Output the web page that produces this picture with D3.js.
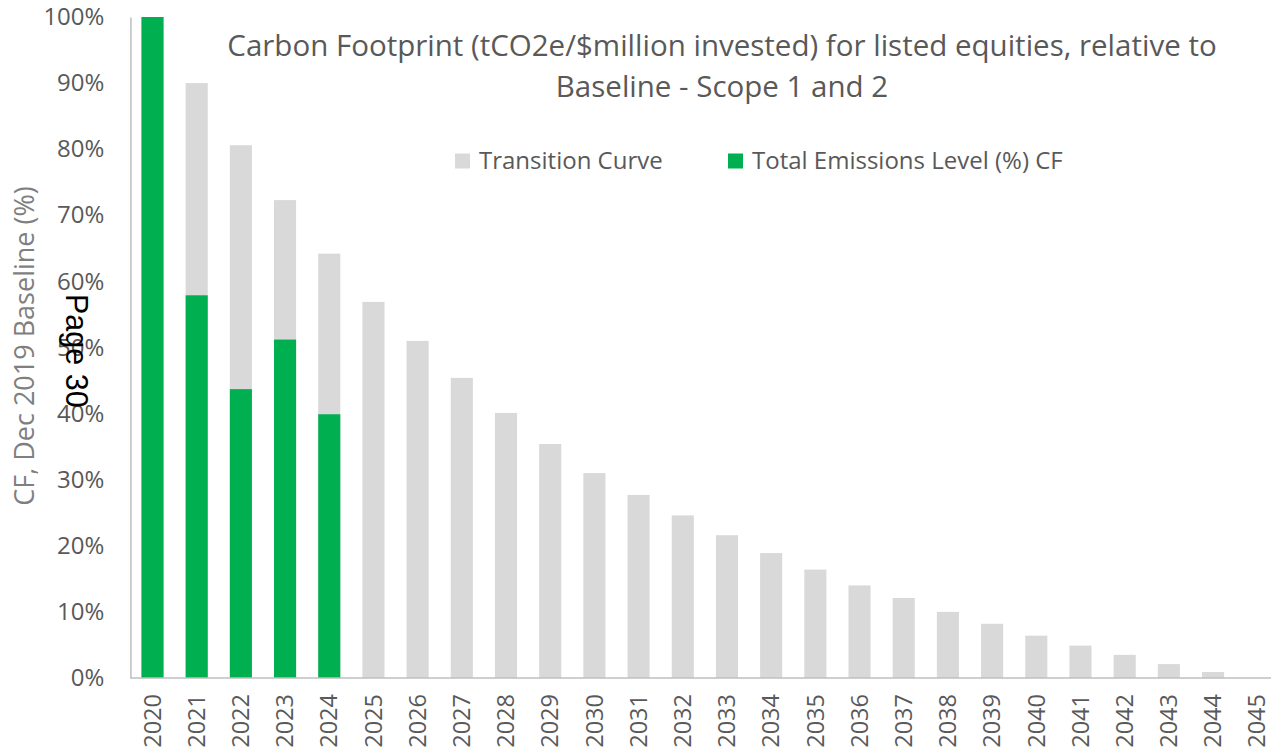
<!DOCTYPE html>
<html>
<head>
<meta charset="utf-8">
<script src="https://cdn.jsdelivr.net/npm/d3@7"></script>
<style>
  body { margin: 0; background: #fff; }
  svg { display: block; font-family: 'Open Sans', sans-serif; }
</style>
</head>
<body>
<svg id="canvas" width="1271" height="752"></svg>
<script>
'use strict';

var years = ['2020', '2021', '2022', '2023', '2024', '2025', '2026', '2027', '2028',
  '2029', '2030', '2031', '2032', '2033', '2034', '2035', '2036', '2037', '2038',
  '2039', '2040', '2041', '2042', '2043', '2044', '2045'];
var transitionCurve = [100, 90.0, 80.6, 72.3, 64.2, 56.9, 51.0, 45.4, 40.1, 35.4,
  31.0, 27.7, 24.6, 21.6, 18.9, 16.4, 14.0, 12.1, 10.0, 8.2, 6.4, 4.9, 3.5, 2.1, 0.9, 0];
var totalEmissions = [100, 57.9, 43.7, 51.2, 39.9];
var yTicks = [0, 10, 20, 30, 40, 50, 60, 70, 80, 90, 100];
var seriesNames = ['Transition Curve', 'Total Emissions Level (%) CF'];
var titleLines = ['Carbon Footprint (tCO2e/$million invested) for listed equities, relative to',
  'Baseline - Scope 1 and 2'];

var GREY = '#d9d9d9', GREEN = '#00b050', AXIS = '#bfbfbf', TEXT = '#595959';

function RenderChart() {
  var svg = d3.select('#canvas');
  var left = 130.4, top = 17, bottom = 678;

  var x = d3.scaleBand()
      .domain(years)
      .range([left, left + 44.19 * years.length])
      .paddingInner(0.5)
      .paddingOuter(0.25);
  var y = d3.scaleLinear().domain([0, 100]).range([bottom, top]);

  // grey transition curve bars
  svg.append('g').selectAll('rect')
      .data(years.map(function(yr, i) { return {year: yr, value: transitionCurve[i]}; }))
    .enter().append('rect')
      .attr('x', function(d) { return x(d.year); })
      .attr('y', function(d) { return y(d.value); })
      .attr('width', x.bandwidth())
      .attr('height', function(d) { return y(0) - y(d.value); })
      .attr('fill', GREY);

  // green actual bars overlap the grey ones
  svg.append('g').selectAll('rect')
      .data(totalEmissions.map(function(v, i) { return {year: years[i], value: v}; }))
    .enter().append('rect')
      .attr('x', function(d) { return x(d.year); })
      .attr('y', function(d) { return y(d.value); })
      .attr('width', x.bandwidth())
      .attr('height', function(d) { return y(0) - y(d.value); })
      .attr('fill', GREEN);

  // y axis
  var yAxis = svg.append('g')
      .attr('transform', 'translate(' + left + ',0)')
      .call(d3.axisLeft(y).tickValues(yTicks).tickSize(0).tickPadding(26)
        .tickFormat(function(d) { return d + '%'; }));
  yAxis.select('.domain').attr('stroke', AXIS).attr('stroke-width', 1.5);
  yAxis.selectAll('text')
      .attr('fill', TEXT)
      .attr('font-size', 24)
      .attr('font-family', "'Open Sans', sans-serif");

  // x axis
  var xAxis = svg.append('g')
      .attr('transform', 'translate(0,' + bottom + ')')
      .call(d3.axisBottom(x).tickSize(0).tickSizeOuter(0));
  xAxis.select('.domain').attr('stroke', AXIS).attr('stroke-width', 1.5)
      .attr('d', 'M' + left + ',0H1271');
  xAxis.selectAll('text')
      .attr('fill', TEXT)
      .attr('font-size', 23.5)
      .attr('font-family', "'Open Sans', sans-serif")
      .attr('transform', 'rotate(-90)')
      .attr('text-anchor', 'end')
      .attr('dy', '0.35em')
      .attr('x', -16)
      .attr('y', 0);

  // y label
  svg.append('text')
      .attr('transform', 'translate(34,346) rotate(-90)')
      .attr('text-anchor', 'middle')
      .attr('fill', '#7f7f7f')
      .attr('font-size', 27)
      .text('CF, Dec 2019 Baseline (%)');

  // title
  svg.append('g').selectAll('text')
      .data(titleLines)
    .enter().append('text')
      .attr('x', 722)
      .attr('y', function(d, i) { return 56 + i * 41; })
      .attr('text-anchor', 'middle')
      .attr('fill', TEXT)
      .attr('font-size', 29.5)
      .text(function(d) { return d; });

  // legend
  var legendX = [455, 728];
  var legend = svg.append('g').selectAll('g')
      .data(seriesNames)
    .enter().append('g')
      .attr('transform', function(d, i) { return 'translate(' + legendX[i] + ',161)'; });
  legend.append('rect')
      .attr('x', 0).attr('y', -7.5)
      .attr('width', 15).attr('height', 15)
      .attr('fill', function(d, i) { return i === 0 ? GREY : GREEN; });
  legend.append('text')
      .attr('x', 24)
      .attr('dy', '0.35em')
      .attr('fill', TEXT)
      .attr('font-size', 24)
      .text(function(d) { return d; });

  // page stamp
  svg.append('text')
      .attr('transform', 'translate(66,294) rotate(90)')
      .attr('fill', '#000')
      .attr('font-size', 30.5)
      .attr('font-family', "'Liberation Sans', sans-serif")
      .text('Page 30');
}

RenderChart();
</script>
</body>
</html>
